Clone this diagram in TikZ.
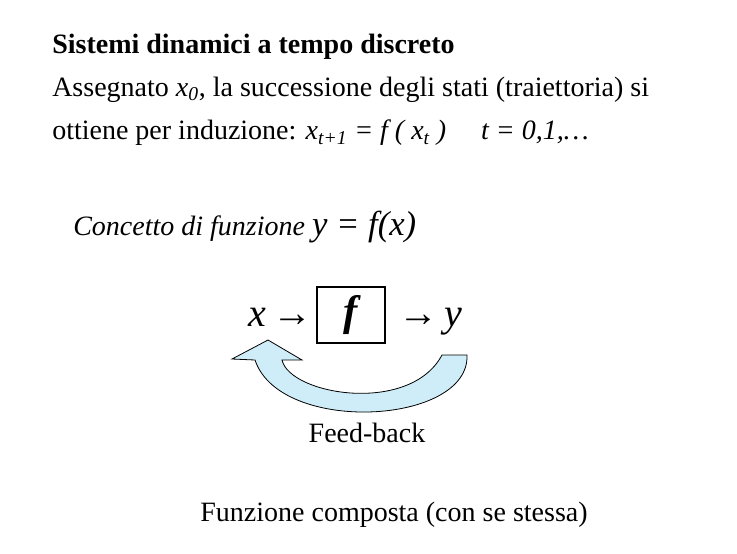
\documentclass[tikz,border=0pt]{standalone}
\usepackage{fontspec}
\setmainfont{Liberation Serif}[ItalicFont={Liberation Serif Italic},BoldFont={Liberation Serif Bold},BoldItalicFont={Liberation Serif Bold Italic}]
\begin{document}
\begin{tikzpicture}[x=0.75pt,y=-0.75pt,
  txt/.style={inner sep=0pt,anchor=west}]
\useasboundingbox (0,0) rectangle (737,553);
\node[txt,font=\fontsize{21}{23}\selectfont\bfseries] (t1) at (52,47) {Sistemi dinamici a tempo discreto};
\node[txt,font=\fontsize{21}{23}\selectfont] (t2) at (52,90) {Assegnato \textit{x\textsubscript{0}}, la successione degli stati (traiettoria) si};
\node[txt,font=\fontsize{21}{23}\selectfont] (t3) at (52,133) {ottiene per induzione: \textit{x\textsubscript{t+1} = f ( x\textsubscript{t} )}\quad\ \textit{t = 0,1,\dots}};
\node[txt,anchor=base west,font=\fontsize{21}{23}\selectfont\itshape] (c1) at (73,235) {Concetto di funzione \fontsize{26}{28}\selectfont y = f(x)};
\node[draw,line width=1pt,minimum width=51pt,minimum height=42pt,inner sep=0pt,font=\fontsize{32}{34}\selectfont\bfseries\itshape] (f) at (351,315) {f};
\node[inner sep=0pt,anchor=base east,font=\fontsize{30}{32}\selectfont] (x) at (313,326) {\textit{x}\,→};
\node[inner sep=0pt,anchor=base west,font=\fontsize{30}{32}\selectfont] (y) at (398,326) {→\,\textit{y}};
\filldraw[fill=lightgray!30!cyan!25,draw=black,line width=0.6pt]
  (268,340) -- (302,360) -- (282,360)
  .. controls (290,395) and (410,415) .. (442,355)
  -- (467,355)
  .. controls (470,425) and (280,435) .. (255,360)
  -- (232,359) -- cycle;
\node[font=\fontsize{21}{23}\selectfont,inner sep=0pt] (fb) at (367,433) {Feed-back};
\node[font=\fontsize{21}{23}\selectfont,inner sep=0pt] (fc) at (394,515) {Funzione composta (con se stessa)};
\end{tikzpicture}
\end{document}
